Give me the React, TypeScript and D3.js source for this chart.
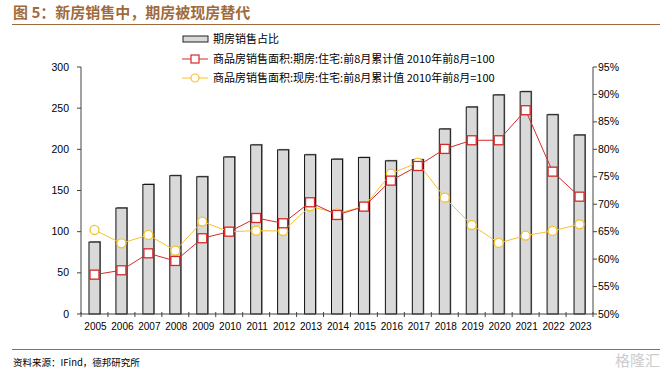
import React from "react";
import * as d3 from "d3";

const years = ["2005","2006","2007","2008","2009","2010","2011","2012","2013","2014","2015","2016","2017","2018","2019","2020","2021","2022","2023"];
const futuresShare = [63.1,69.3,73.6,75.2,75.0,78.6,80.8,79.9,79.0,78.2,78.5,77.9,78.1,83.7,87.7,89.9,90.5,86.3,82.6];
const futuresArea = [47.8,53.1,73.7,64.4,92.0,100,116.6,110.2,135.7,120.3,130.4,162,179.8,200.5,211,211,247.5,172.9,142.5];
const spotArea = [102.1,85.9,96,76.9,112.2,100,101.2,100.8,130.8,122.3,130.4,170.5,183.8,141.3,108.1,86.3,95.2,100.9,109];
const leftTicks = [0,50,100,150,200,250,300];
const rightTicks = [50,55,60,65,70,75,80,85,90,95];

const title = "图 5：新房销售中，期房被现房替代";
const legendBar = "期房销售占比";
const legendRed = "商品房销售面积:期房:住宅:前8月累计值 2010年前8月=100";
const legendYellow = "商品房销售面积:现房:住宅:前8月累计值 2010年前8月=100";
const source = "资料来源：IFind，德邦研究所";

export default function App() {
  const W = 672, H = 377;
  const left = 81, right = 593, top = 67, bottom = 314;
  const x = d3.scaleBand<string>().domain(years).range([left, right]).padding(0);
  const yL = d3.scaleLinear().domain([0, 300]).range([bottom, top]);
  const yR = d3.scaleLinear().domain([50, 95]).range([bottom, top]);
  const cx = (y: string) => (x(y) as number) + x.bandwidth() / 2;
  const barW = 11;
  const line = d3.line<number>().x((_, i) => cx(years[i])).y((d) => yL(d));
  const red = "#d42a2a";
  const yellow = "#f7c12c";
  const axisFont = "'Liberation Sans Narrow', 'Liberation Sans', Arial, sans-serif";
  const cjk = "'Noto Sans CJK SC', sans-serif";
  const brown = "#a06b3c";
  return (
    <svg width={W} height={H} style={{ position: "absolute", left: 0, top: 0, background: "#fff" }}>
      <text x={13} y={18} fontFamily={cjk} fontWeight="bold" fontSize={15} fill={brown}>{title}</text>
      <line x1={12} x2={660} y1={24.5} y2={24.5} stroke={brown} strokeWidth={1} />

      {/* legend */}
      <rect x={183} y={36} width={25} height={6} fill="#d9d9d9" stroke="#222" strokeWidth={1} />
      <text x={213} y={43} fontFamily={cjk} fontSize={11} fill="#000">{legendBar}</text>
      <line x1={182} x2={208} y1={59} y2={59} stroke={red} strokeWidth={1} />
      <rect x={191} y={55} width={8} height={8} fill="#fff" stroke={red} strokeWidth={1.2} />
      <text x={213} y={63} fontFamily={cjk} fontSize={11} fill="#000">{legendRed}</text>
      <line x1={182} x2={208} y1={78} y2={78} stroke={yellow} strokeWidth={1} />
      <circle cx={195} cy={78} r={4} fill="#fff" stroke={yellow} strokeWidth={1.2} />
      <text x={213} y={82} fontFamily={cjk} fontSize={11} fill="#000">{legendYellow}</text>

      {/* bars */}
      {years.map((yr, i) => (
        <g key={yr}>
          <rect x={cx(yr) - barW / 2 + 1} y={yR(futuresShare[i]) - 1} width={barW} height={bottom - yR(futuresShare[i]) + 1} fill="#888" />
          <rect x={cx(yr) - barW / 2} y={yR(futuresShare[i])} width={barW} height={bottom - yR(futuresShare[i])} fill="#d9d9d9" stroke="#111" strokeWidth={1} />
        </g>
      ))}

      {/* axes */}
      <line x1={left} x2={left} y1={top} y2={bottom} stroke="#444" />
      <line x1={right} x2={right} y1={top} y2={bottom} stroke="#444" />
      <line x1={left} x2={right} y1={bottom} y2={bottom} stroke="#444" />
      {leftTicks.map((t) => (
        <g key={"l" + t}>
          <line x1={left - 4} x2={left} y1={yL(t)} y2={yL(t)} stroke="#444" />
          <text x={69} y={yL(t) + 3.5} textAnchor="end" fontFamily={axisFont} fontSize={10.5} fill="#000">{t}</text>
        </g>
      ))}
      {rightTicks.map((t) => (
        <g key={"r" + t}>
          <line x1={right} x2={right + 4} y1={yR(t)} y2={yR(t)} stroke="#444" />
          <text x={598} y={yR(t) + 3.5} textAnchor="start" fontFamily={axisFont} fontSize={10.5} fill="#000">{t + "%"}</text>
        </g>
      ))}
      {years.map((yr) => (
        <line key={"t" + yr} x1={x(yr) as number} x2={x(yr) as number} y1={bottom - 2} y2={bottom + 3} stroke="#444" />
      ))}
      <line x1={right} x2={right} y1={bottom - 2} y2={bottom + 3} stroke="#444" />
      {years.map((yr) => (
        <text key={"x" + yr} x={cx(yr) + 1} y={330} textAnchor="middle" fontFamily={axisFont} fontSize={10} fill="#000">{yr}</text>
      ))}

      {/* lines */}
      <path d={line(spotArea) || ""} fill="none" stroke={yellow} strokeWidth={1} />
      <path d={line(futuresArea) || ""} fill="none" stroke={red} strokeWidth={1} />
      {spotArea.map((v, i) => (
        <circle key={"c" + i} cx={cx(years[i])} cy={yL(v)} r={4.5} fill="#fff" stroke={yellow} strokeWidth={1.3} />
      ))}
      {futuresArea.map((v, i) => (
        <rect key={"s" + i} x={cx(years[i]) - 4.5} y={yL(v) - 4.5} width={9} height={9} fill="#fff" stroke={red} strokeWidth={1.3} />
      ))}

      <line x1={12} x2={660} y1={349.5} y2={349.5} stroke={brown} strokeWidth={1} />
      <text x={13} y={366} fontFamily={cjk} fontSize={9.5} fill="#000">{source}</text>
      <text x={660} y={366} textAnchor="end" fontFamily={cjk} fontSize={15} fill="#ccc">格隆汇</text>
    </svg>
  );
}
